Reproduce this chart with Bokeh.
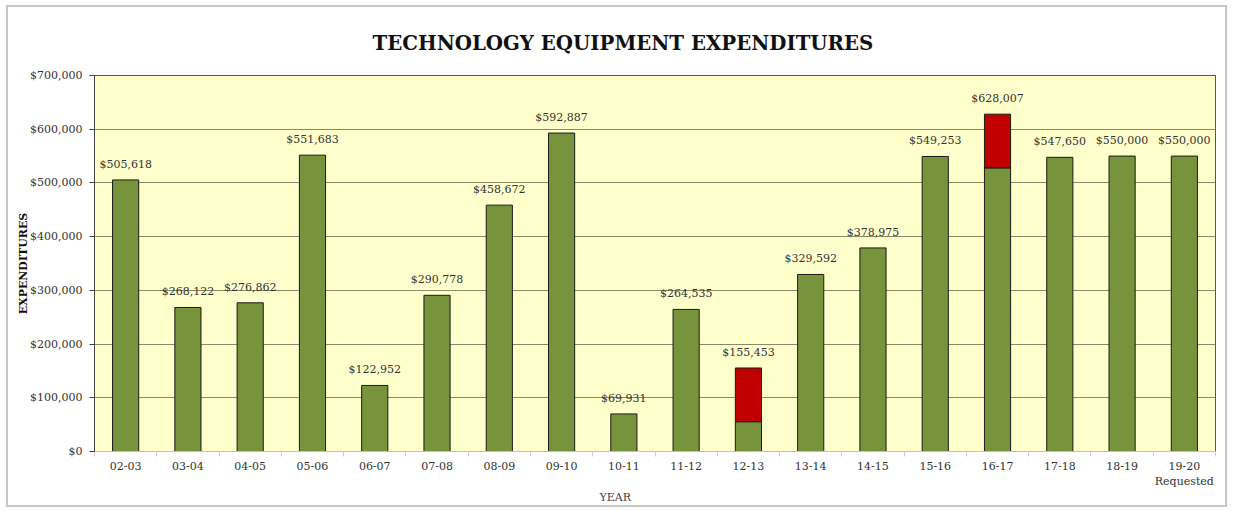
from bokeh.plotting import figure
from bokeh.models import ColumnDataSource, FixedTicker, NumeralTickFormatter, Title
from bokeh.core.properties import value
from bokeh.embed import file_html
from bokeh.resources import INLINE

years = ["02-03", "03-04", "04-05", "05-06", "06-07", "07-08", "08-09", "09-10", "10-11",
         "11-12", "12-13", "13-14", "14-15", "15-16", "16-17", "17-18", "18-19", "19-20\nRequested"]
totals = [505618, 268122, 276862, 551683, 122952, 290778, 458672, 592887, 69931,
          264535, 155453, 329592, 378975, 549253, 628007, 547650, 550000, 550000]
red_part = [0, 0, 0, 0, 0, 0, 0, 0, 0, 0, 100000, 0, 0, 0, 100000, 0, 0, 0]
green_part = [t - r for t, r in zip(totals, red_part)]
label_text = ["${:,}".format(t) for t in totals]

SERIF = "DejaVu Serif"
xs = list(range(len(years)))
src = ColumnDataSource(dict(x=xs, green=green_part, total=totals, lbl=label_text))
red_idx = [i for i, r in enumerate(red_part) if r > 0]
src_red = ColumnDataSource(dict(x=[xs[i] for i in red_idx],
                                bottom=[green_part[i] for i in red_idx],
                                top=[totals[i] for i in red_idx]))

p = figure(width=1221, height=502, output_backend="svg", toolbar_location=None,
           x_range=(-0.5, len(years) - 0.5), y_range=(0, 700000),
           min_border_left=86, min_border_right=14, min_border_top=68, min_border_bottom=58)
p.styles = {"border": "2px solid #c8c8c8", "margin-left": "6px", "margin-top": "5px"}
p.background_fill_color = "#FFFFCC"
p.border_fill_color = "white"
p.outline_line_color = "#555555"
p.outline_line_width = 1

p.vbar(x="x", top="green", bottom=0, width=0.42, source=src,
       fill_color="#77933C", line_color="#1a1a1a", line_width=1)
p.vbar(x="x", top="top", bottom="bottom", width=0.42, source=src_red,
       fill_color="#C00000", line_color="#1a1a1a", line_width=1)

p.text(x="x", y="total", text="lbl", source=src, text_align="center",
       text_baseline="bottom", y_offset=-9, text_font=value(SERIF),
       text_font_size="11px", text_color="#333333")

p.xgrid.grid_line_color = None
p.ygrid.grid_line_color = "#8a8a6a"
p.ygrid.grid_line_width = 1
p.yaxis.ticker = FixedTicker(ticks=list(range(0, 700001, 100000)))
p.yaxis.formatter = NumeralTickFormatter(format="$0,0")
p.yaxis.major_label_text_font = SERIF
p.yaxis.major_label_text_font_size = "11px"
p.yaxis.major_label_text_color = "#333333"
p.yaxis.major_label_standoff = 7
p.yaxis.axis_line_color = "#444444"
p.yaxis.major_tick_line_color = "#444444"
p.yaxis.major_tick_out = 5
p.yaxis.major_tick_in = 0
p.yaxis.minor_tick_line_color = None
p.yaxis.axis_label = "EXPENDITURES"
p.yaxis.axis_label_text_font = SERIF
p.yaxis.axis_label_text_font_style = "bold"
p.yaxis.axis_label_text_font_size = "11px"
p.yaxis.axis_label_text_color = "#111111"
p.yaxis.axis_label_standoff = -3

p.xaxis.ticker = FixedTicker(ticks=xs, minor_ticks=[i - 0.5 for i in range(len(years) + 1)])
p.xaxis.major_label_overrides = {i: y for i, y in enumerate(years)}
p.xaxis.major_label_text_font = SERIF
p.xaxis.major_label_text_font_size = "11px"
p.xaxis.major_label_text_color = "#333333"
p.xaxis.major_label_standoff = 2
p.xaxis.major_tick_line_color = None
p.xaxis.minor_tick_line_color = "#cccccc"
p.xaxis.minor_tick_out = 5
p.xaxis.minor_tick_in = 0
p.xaxis.axis_line_color = "#F0B878"
p.xaxis.axis_line_width = 1

title = Title(text="TECHNOLOGY EQUIPMENT EXPENDITURES", align="left", offset=278,
              text_font=SERIF, text_font_style="bold", text_font_size="19.75px",
              text_color="#111111", standoff=41)
p.add_layout(title, "above")
year_lbl = Title(text="YEAR", align="left", offset=505, text_font=SERIF,
                 text_font_style="normal", text_font_size="11px", text_color="#444444",
                 standoff=-5)
p.add_layout(year_lbl, "below")

open("out.html", "w").write(file_html(p, INLINE))
